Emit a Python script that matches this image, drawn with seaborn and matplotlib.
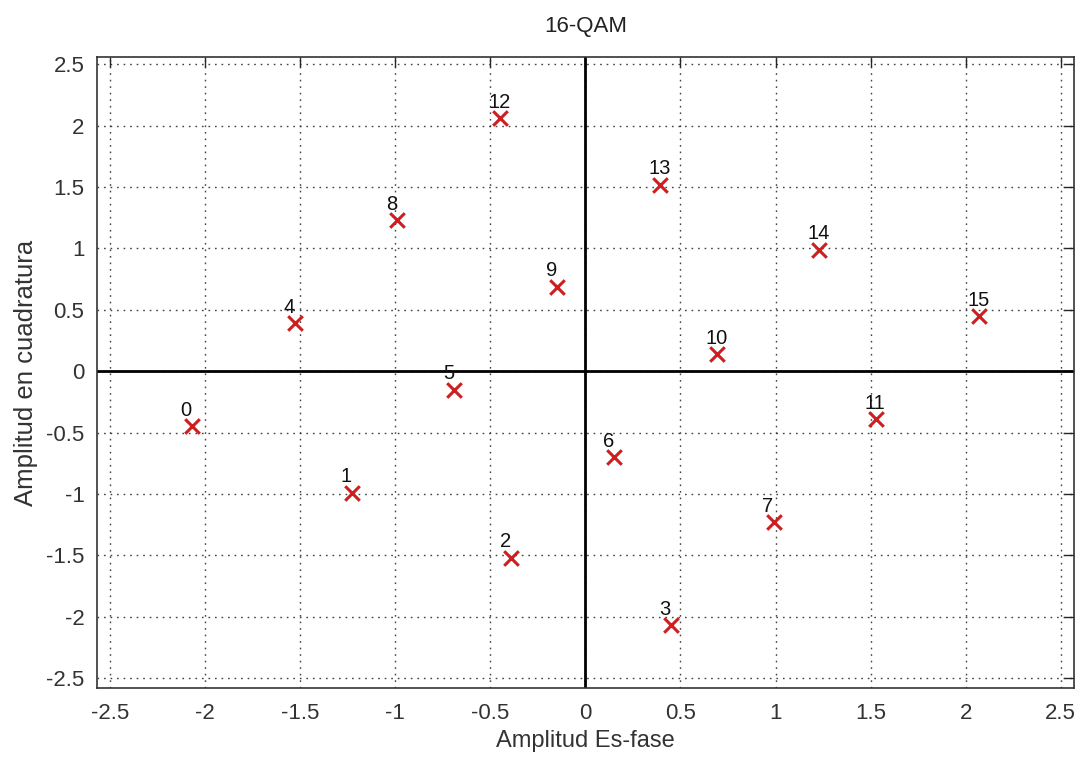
import matplotlib
matplotlib.use("Agg")
import pandas as pd
import matplotlib.pyplot as plt
import seaborn as sns

# 16-QAM constellation points
simbolos = list(range(16))
en_fase = [-2.07, -1.23, -0.39, 0.45, -1.53, -0.69, 0.15, 0.99,
           -0.99, -0.15, 0.69, 1.53, -0.45, 0.39, 1.23, 2.07]
cuadratura = [-0.45, -0.99, -1.52, -2.07, 0.39, -0.15, -0.70, -1.23,
              1.23, 0.69, 0.14, -0.39, 2.06, 1.52, 0.99, 0.45]
ticks = [-2.5, -2, -1.5, -1, -0.5, 0, 0.5, 1, 1.5, 2, 2.5]
tick_labels = ["-2.5", "-2", "-1.5", "-1", "-0.5", "0", "0.5", "1", "1.5", "2", "2.5"]

df = pd.DataFrame({"Simbolo": simbolos, "I": en_fase, "Q": cuadratura})

sns.set_style("white")
plt.rcParams["font.family"] = ["Liberation Sans", "DejaVu Sans"]

fig = plt.figure(figsize=(10.87, 7.65), dpi=100)
ax = fig.add_axes([0.0892, 0.1007, 0.8988, 0.8248])

# zero axes
ax.axhline(0, color="black", lw=2, zorder=2)
ax.axvline(0, color="black", lw=2, zorder=2)

sns.scatterplot(data=df, x="I", y="Q", marker="x", s=110, color="#cc1f1f",
                linewidth=2.2, ax=ax, zorder=3, legend=False)

for _, row in df.iterrows():
    ax.text(row["I"] - 0.06, row["Q"] + 0.13, str(int(row["Simbolo"])),
            fontsize=14.5, color="#111111", ha="left", va="center", zorder=4)

ax.set_xlim(-2.57, 2.57)
ax.set_ylim(-2.58, 2.56)
ax.set_xticks(ticks)
ax.set_xticklabels(tick_labels)
ax.set_yticks(ticks)
ax.set_yticklabels(tick_labels)
ax.grid(True, linestyle=(0, (1.2, 3.5)), color="#222222", lw=1.0, alpha=0.85)
ax.tick_params(direction="in", length=7, width=1, top=True, right=True,
               labelsize=16, labelcolor="#333333")
ax.tick_params(axis="x", pad=11)
ax.tick_params(axis="y", pad=9)
for s in ax.spines.values():
    s.set_color("#333333")
    s.set_linewidth(1.2)

ax.set_title("16-QAM", fontsize=16, color="#222222", pad=18)
ax.set_xlabel("Amplitud Es-fase", fontsize=17, color="#333333", labelpad=4)
ax.set_ylabel("Amplitud en cuadratura", fontsize=18.5, color="#333333", labelpad=6)

plt.savefig("out.png", dpi=100)
